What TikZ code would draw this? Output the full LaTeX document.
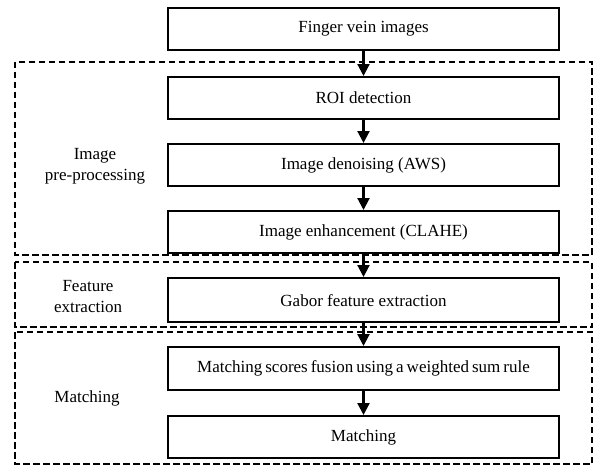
\documentclass[tikz,border=0pt]{standalone}
\usepackage{fontspec}
\setmainfont{Liberation Serif}
\usetikzlibrary{arrows.meta}
\begin{document}
\begin{tikzpicture}[x=1pt,y=-1pt,
  stepbox/.style={draw=black,line width=2.3pt,minimum width=391pt,minimum height=42pt,inner sep=0pt,font=\fontsize{17}{20}\selectfont,anchor=north},
  group/.style={draw=black,line width=2pt,dash pattern=on 6.5pt off 3.5pt},
  grouplabel/.style={font=\fontsize{17}{21}\selectfont,align=center},
  flow/.style={line width=2.2pt,-{Triangle[length=12pt,width=12pt]}}]
\useasboundingbox (0,0) rectangle (593,466);
% groups
\draw[group] (15,61.5) rectangle (592,254.5);
\draw[group] (15,262) rectangle (592,327);
\draw[group] (15,332) rectangle (592,464);
% boxes
\node[stepbox] (a) at (363.5,7) {Finger vein images};
\node[stepbox] (b) at (363.5,76) {ROI detection};
\node[stepbox] (c) at (363.5,143) {Image denoising (AWS)};
\node[stepbox] (d) at (363.5,210) {Image enhancement (CLAHE)};
\node[stepbox,minimum height=44pt] (e) at (363.5,277) {Gabor feature extraction};
\node[stepbox,minimum height=43pt] (f) at (363.5,346) {\spaceskip=3pt plus 1pt Matching scores fusion using a weighted sum rule};
\node[stepbox] (g) at (363.5,415) {Matching};
% labels
\node[grouplabel] (l1) at (95,166) {Image\\pre-processing};
\node[grouplabel] (l2) at (88,297) {Feature\\extraction};
\node[grouplabel] (l3) at (87,398) {Matching};
% arrows
\draw[flow] (a) -- (b);
\draw[flow] (b) -- (c);
\draw[flow] (c) -- (d);
\draw[flow] (d) -- (e);
\draw[flow] (e) -- (f);
\draw[flow] (f) -- (g);
\end{tikzpicture}
\end{document}
